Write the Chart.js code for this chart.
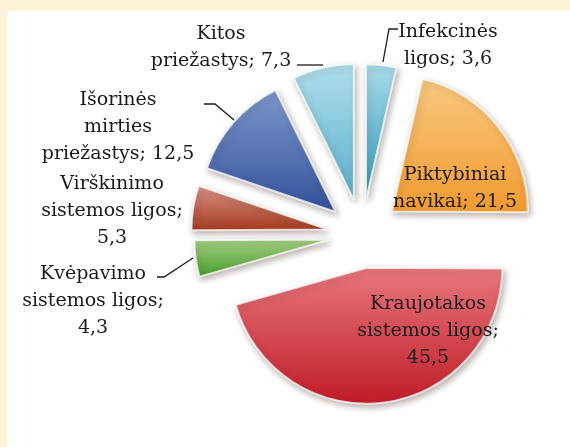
<!DOCTYPE html>
<html lang="lt">
<head>
<meta charset="utf-8">
<script src="https://cdn.jsdelivr.net/npm/chart.js@4.4.1/dist/chart.umd.min.js"></script>
<style>
  html, body { margin: 0; padding: 0; }
  body { width: 570px; height: 447px; background: #fcf3d8; position: relative; overflow: hidden; }
  #panel { position: absolute; left: 7px; top: 11px; right: 0; bottom: 0; background: #fff; }
  #grafikas { position: absolute; left: 0; top: 0; }
</style>
</head>
<body>
<div id="panel"></div>
<canvas id="grafikas" width="570" height="447"></canvas>
<script>
// ================== DUOMENYS ==================

// kategoriju pavadinimai, suskaidyti i eilutes
const kategorijos = [
    ['Infekcinės', 'ligos'],
    ['Piktybiniai', 'navikai'],
    ['Kraujotakos', 'sistemos ligos'],
    ['Kvėpavimo', 'sistemos ligos'],
    ['Virškinimo', 'sistemos ligos'],
    ['Išorinės', 'mirties', 'priežastys'],
    ['Kitos', 'priežastys']
];
const reiksmes = [3.6, 21.5, 45.5, 4.3, 5.3, 12.5, 7.3];

// ================== STILIUS ==================

const spalvosVirsus = ['#a9dcea', '#f9c982', '#e8777e', '#a3d184', '#d99484', '#7d98cb', '#b0dfec'];
const spalvosApacia = ['#2f97b9', '#f29a2e', '#c01c26', '#4a9a2b', '#a53a22', '#32509b', '#5aaecb'];
const atitraukimas = [35, 38, 33, 32, 35, 35, 36]; // isskleidimas, px
const reiksmeAtskiraEilute = [false, false, true, true, true, false, false];
const SPINDULYS = 136;
const EILUTES_AUKSTIS = 27;

// etikeciu pirmos eilutes vieta (nuo skritulio centro)
const etikeciuPoslinkis = [[86, -198], [93, -55], [66, 74], [-269, 44], [-250, -46], [-244, -130], [-141, -196]];
// nuorodu linijos (nuo skritulio centro)
const nuorodos = {
    0: [[36, -206], [27, -206], [21, -173]],
    3: [[-205, 42], [-198, 42], [-169, 23]],
    5: [[-158, -131], [-147, -131], [-128, -115]],
    6: [[-65, -170], [-39, -170]]
};

function centras(chart) {
    const a = chart.chartArea;
    return { x: (a.left + a.right) / 2, y: (a.top + a.bottom) / 2 };
}

// vertikalus gradientas kiekvienam sektoriui
function gradientas(c) {
    const chart = c.chart, i = c.dataIndex;
    if (!chart.chartArea) return spalvosApacia[i];
    const cy = centras(chart).y;
    const suma = reiksmes.reduce((a, b) => a + b, 0);
    let pradzia = -Math.PI / 2;
    for (let k = 0; k < i; k++) pradzia += reiksmes[k] / suma * 2 * Math.PI;
    const pabaiga = pradzia + reiksmes[i] / suma * 2 * Math.PI;
    let yMin = cy, yMax = cy;
    for (let t = 0; t <= 24; t++) {
        const y = cy + SPINDULYS * Math.sin(pradzia + (pabaiga - pradzia) * t / 24);
        yMin = Math.min(yMin, y);
        yMax = Math.max(yMax, y);
    }
    const g = chart.ctx.createLinearGradient(0, yMin, 0, yMax);
    g.addColorStop(0, spalvosVirsus[i]);
    g.addColorStop(1, spalvosApacia[i]);
    return g;
}

// isskleidzia sektorius ir uzdeda seseli
const isskleidimas = {
    id: 'isskleidimas',
    beforeDatasetsDraw(chart) {
        const ctx = chart.ctx;
        chart.getDatasetMeta(0).data.forEach(function (lankas, i) {
            const vid = (lankas.startAngle + lankas.endAngle) / 2;
            ctx.save();
            ctx.translate(Math.cos(vid) * atitraukimas[i], Math.sin(vid) * atitraukimas[i]);
            ctx.shadowColor = 'rgba(60, 40, 30, 0.35)';
            ctx.shadowBlur = 6;
            ctx.shadowOffsetX = 2;
            ctx.shadowOffsetY = 3;
            lankas.draw(ctx);
            ctx.restore();
        });
        return false;
    },
    afterDraw(chart) {
        const ctx = chart.ctx;
        const c = centras(chart);
        ctx.save();
        ctx.fillStyle = '#1a1a1a';
        ctx.strokeStyle = '#1a1a1a';
        ctx.lineWidth = 1.3;
        ctx.font = '19px "DejaVu Serif"';
        ctx.textAlign = 'center';
        ctx.textBaseline = 'alphabetic';
        kategorijos.forEach(function (eil, i) {
            const eilutes = eil.slice();
            const tekstas = reiksmes[i].toFixed(1).replace('.', ',');
            if (reiksmeAtskiraEilute[i]) {
                eilutes[eilutes.length - 1] += ';';
                eilutes.push(tekstas);
            } else {
                eilutes[eilutes.length - 1] += '; ' + tekstas;
            }
            const [dx, dy] = etikeciuPoslinkis[i];
            eilutes.forEach(function (t, j) {
                ctx.fillText(t, c.x + dx, c.y + dy + j * EILUTES_AUKSTIS);
            });
            if (nuorodos[i]) {
                ctx.beginPath();
                nuorodos[i].forEach(function (p, j) {
                    if (j === 0) ctx.moveTo(c.x + p[0], c.y + p[1]);
                    else ctx.lineTo(c.x + p[0], c.y + p[1]);
                });
                ctx.stroke();
            }
        });
        ctx.restore();
    }
};

new Chart(document.getElementById('grafikas'), {
    type: 'pie',
    data: {
        labels: kategorijos.map(function (e) { return e.join(' '); }),
        datasets: [{
            data: reiksmes,
            backgroundColor: gradientas,
            borderColor: 'rgba(255, 255, 255, 0.75)',
            borderWidth: 2
        }]
    },
    options: {
        responsive: false,
        animation: false,
        devicePixelRatio: 1,
        radius: SPINDULYS,
        rotation: 0,
        layout: { padding: { left: 154, top: 23, right: 0, bottom: 0 } },
        plugins: {
            legend: { display: false },
            tooltip: { enabled: false }
        }
    },
    plugins: [isskleidimas]
});
</script>
</body>
</html>
